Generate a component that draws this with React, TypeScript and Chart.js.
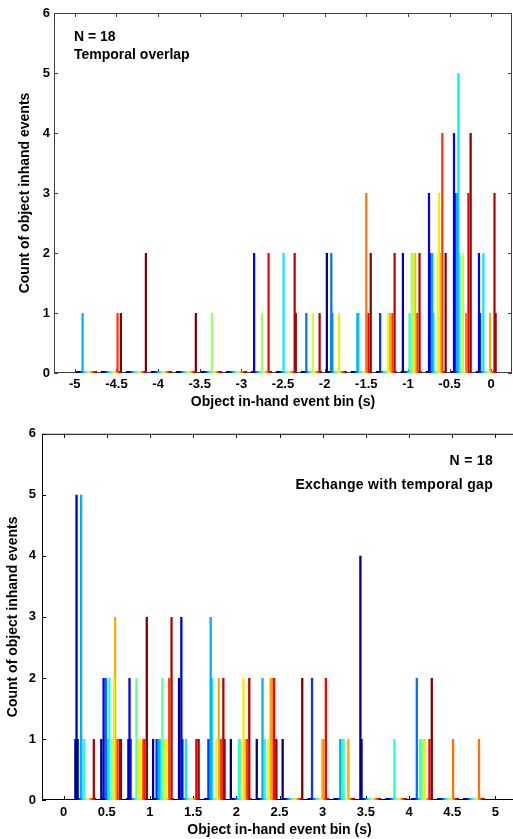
import React, { useEffect, useRef } from "react";
import { Chart, registerables } from "chart.js";

Chart.register(...registerables);

const SUBJECT_COUNT = 18;

// ---- Top panel: temporal overlap ----
const topBins = [-4.86, -4.56, -4.26, -3.96, -3.66, -3.36, -3.06, -2.76, -2.46, -2.16, -1.86, -1.56, -1.26, -0.96, -0.66, -0.36, -0.06];
const topSubjects = [
  [5], [14, 17], [17], [], [17], [9], [], [2, 9, 15], [6, 16, 17], [4, 10, 16], [0, 4, 5, 11],
  [5, 6, 13, 15, 17], [3, 10, 12, 14, 16], [1, 7, 9, 11, 12, 14, 16], [2, 3, 5, 6, 10, 11, 12, 14, 17],
  [2, 3, 5, 6, 7, 10, 13, 15, 17], [2, 3, 6, 12, 16, 17],
];
const topCounts = [
  [1], [1, 1], [2], [], [1], [1], [], [2, 1, 2], [2, 2, 1], [1, 1, 1], [2, 2, 1, 1],
  [1, 1, 3, 1, 2], [1, 1, 1, 1, 2], [2, 1, 2, 2, 2, 1, 2], [3, 2, 2, 1, 2, 3, 2, 4, 2],
  [4, 3, 3, 5, 2, 2, 1, 3, 4], [2, 1, 2, 1, 3, 1],
];
const topXTicks = [-5, -4.5, -4, -3.5, -3, -2.5, -2, -1.5, -1, -0.5, 0];
const topNotes = ["N = 18", "Temporal overlap"];

// ---- Bottom panel: exchange with temporal gap ----
const bottomBins = [0.25, 0.55, 0.85, 1.15, 1.45, 1.75, 2.05, 2.35, 2.65, 2.95, 3.25, 3.55, 3.85, 4.15, 4.45, 4.75];
const bottomSubjects = [
  [0, 1, 2, 5, 7, 8, 16], [0, 2, 4, 6, 7, 9, 11, 12, 14, 16, 17], [1, 2, 3, 8, 10, 11, 14, 15, 17],
  [0, 3, 5, 6, 8, 10, 11, 14, 16], [0, 2, 3, 6, 15, 17], [3, 5, 6, 10, 12, 14, 16, 17],
  [0, 7, 8, 11, 12, 14, 16], [0, 5, 7, 10, 12, 13, 15, 17], [0, 17], [3, 12, 13, 15], [5, 7, 8, 12],
  [0, 1], [7], [4, 7, 9, 11, 15, 17], [13], [13],
];
const bottomCounts = [
  [1, 5, 1, 5, 1, 1, 1], [1, 2, 2, 1, 2, 1, 2, 3, 1, 1, 1], [1, 2, 1, 2, 1, 1, 1, 1, 3],
  [1, 1, 1, 1, 2, 1, 1, 2, 3], [2, 3, 1, 1, 1, 1], [1, 3, 2, 1, 2, 1, 2, 1],
  [1, 1, 1, 2, 1, 1, 2], [1, 2, 1, 1, 2, 2, 2, 1], [1, 2], [2, 1, 1, 2], [1, 1, 1, 1],
  [4, 1], [1], [2, 1, 1, 1, 1, 2], [1], [1],
];
const bottomXTicks = [0, 0.5, 1, 1.5, 2, 2.5, 3, 3.5, 4, 4.5, 5];
const bottomNotes = ["N = 18", "Exchange with temporal gap"];

const yTicks = [0, 1, 2, 3, 4, 5, 6];
const xTitle = "Object in-hand event bin (s)";
const yTitle = "Count of object inhand events";

const FONT = '"Liberation Sans", Arial, Helvetica, sans-serif';

function jet(t: number): string {
  const c = (v: number) => Math.round(255 * Math.max(0, Math.min(1, v)));
  const r = c(1.5 - Math.abs(4 * t - 3));
  const g = c(1.5 - Math.abs(4 * t - 2));
  const b = c(1.5 - Math.abs(4 * t - 1));
  return `rgb(${r},${g},${b})`;
}

function buildDatasets(bins: number[], subjects: number[][], counts: number[][]) {
  const matrix = Array.from({ length: SUBJECT_COUNT }, () => bins.map(() => 0));
  subjects.forEach((list, b) => list.forEach((s, k) => { matrix[s][b] = counts[b][k]; }));
  return matrix.map((row, s) => ({
    label: `Subject ${s + 1}`,
    data: row.map((y, b) => ({ x: bins[b], y })),
    backgroundColor: jet(s / (SUBJECT_COUNT - 1)),
    borderWidth: 0,
    barPercentage: 2,
    categoryPercentage: 0.8,
    minBarLength: 2,
  }));
}

type PanelOpts = {
  bins: number[]; subjects: number[][]; counts: number[][];
  xMin: number; xMax: number; xTicks: number[];
  yWidth: number; xHeight: number;
  padding: { top: number; right: number; bottom: number; left: number };
  frameColor: string; tickLen: number;
  yTitlePad: number; xTitlePad: number; yTickPad: number; xTickPad: number;
  notes: string[]; notePos: [number, number][]; noteAlign: CanvasTextAlign; noteSpacing: string;
};

function makeConfig(o: PanelOpts): any {
  const framePlugin = {
    id: "frame",
    beforeDatasetsDraw(chart: any) {
      const { ctx, chartArea } = chart;
      const { left, right, top, bottom } = chartArea;
      const xs = chart.scales.x;
      const ys = chart.scales.y;
      ctx.save();
      ctx.strokeStyle = o.frameColor;
      ctx.lineWidth = 1;
      ctx.strokeRect(left + 0.5, top + 0.5, right - left - 1, bottom - top - 1);
      ctx.beginPath();
      xs.ticks.forEach((t: any) => {
        const px = Math.round(xs.getPixelForValue(t.value)) + 0.5;
        ctx.moveTo(px, bottom); ctx.lineTo(px, bottom - o.tickLen);
        ctx.moveTo(px, top); ctx.lineTo(px, top + o.tickLen);
      });
      ys.ticks.forEach((t: any) => {
        const py = Math.round(ys.getPixelForValue(t.value)) + 0.5;
        ctx.moveTo(left, py); ctx.lineTo(left + o.tickLen, py);
        ctx.moveTo(right, py); ctx.lineTo(right - o.tickLen, py);
      });
      ctx.stroke();
      ctx.restore();
    },
  };
  const notePlugin = {
    id: "notes",
    afterDraw(chart: any) {
      const { ctx } = chart;
      ctx.save();
      ctx.fillStyle = "#000";
      ctx.font = `bold 14px ${FONT}`;
      ctx.textAlign = o.noteAlign;
      ctx.textBaseline = "middle";
      try { (ctx as any).letterSpacing = o.noteSpacing; } catch (e) { /* ignore */ }
      o.notes.forEach((txt, i) => ctx.fillText(txt, o.notePos[i][0], o.notePos[i][1]));
      ctx.restore();
    },
  };
  return {
    type: "bar",
    data: { datasets: buildDatasets(o.bins, o.subjects, o.counts) },
    options: {
      animation: false,
      responsive: false,
      devicePixelRatio: 1,
      layout: { padding: o.padding },
      plugins: { legend: { display: false }, tooltip: { enabled: false } },
      scales: {
        x: {
          type: "linear",
          min: o.xMin,
          max: o.xMax,
          offset: false,
          grid: { display: false, drawTicks: false },
          border: { display: false },
          afterBuildTicks: (s: any) => { s.ticks = o.xTicks.map((v) => ({ value: v })); },
          afterFit: (s: any) => { s.height = o.xHeight; },
          ticks: {
            autoSkip: false, maxRotation: 0, padding: o.xTickPad, color: "#000",
            font: { family: FONT, size: 13, weight: "bold" },
            callback: (v: any) => String(v),
          },
          title: {
            display: true, text: xTitle, color: "#000",
            font: { family: FONT, size: 14, weight: "bold" },
            padding: { top: 0, bottom: o.xTitlePad },
          },
        },
        y: {
          type: "linear",
          min: 0,
          max: 6,
          grid: { display: false, drawTicks: false },
          border: { display: false },
          afterBuildTicks: (s: any) => { s.ticks = yTicks.map((v) => ({ value: v })); },
          afterFit: (s: any) => { s.width = o.yWidth; },
          ticks: {
            padding: o.yTickPad, color: "#000",
            font: { family: FONT, size: 13, weight: "bold" },
            callback: (v: any) => String(v),
          },
          title: {
            display: true, text: yTitle, color: "#000",
            font: { family: FONT, size: 14, weight: "bold" },
            padding: { top: o.yTitlePad, bottom: 0 },
          },
        },
      },
    },
    plugins: [framePlugin, notePlugin],
  };
}

function Panel({ config, top, width, height }: { config: any; top: number; width: number; height: number }) {
  const ref = useRef<HTMLCanvasElement>(null);
  useEffect(() => {
    const chart = new Chart(ref.current as HTMLCanvasElement, config);
    return () => chart.destroy();
  }, [config]);
  return (
    <canvas
      ref={ref}
      width={width}
      height={height}
      style={{ position: "absolute", left: 0, top, width, height, display: "block" }}
    />
  );
}

const topConfig = makeConfig({
  bins: topBins, subjects: topSubjects, counts: topCounts,
  xMin: -5.25, xMax: 0.25, xTicks: topXTicks,
  yWidth: 54, xHeight: 47,
  padding: { top: 13, right: 1, bottom: 0, left: 0 },
  frameColor: "#404040", tickLen: 4,
  yTitlePad: 17, xTitlePad: 9.6, yTickPad: 4, xTickPad: 3.2,
  notes: topNotes, notePos: [[74, 37.5], [74, 55.5]], noteAlign: "left", noteSpacing: "0px",
});

const bottomConfig = makeConfig({
  bins: bottomBins, subjects: bottomSubjects, counts: bottomCounts,
  xMin: -0.25, xMax: 5.25, xTicks: bottomXTicks,
  yWidth: 42, xHeight: 39,
  padding: { top: 7, right: 3, bottom: 0, left: 0 },
  frameColor: "#000", tickLen: 4,
  yTitlePad: 5, xTitlePad: 0.6, yTickPad: 6, xTickPad: 4.9,
  notes: bottomNotes, notePos: [[493, 41], [493, 65.5]], noteAlign: "right", noteSpacing: "0.3px",
});

export default function App() {
  return (
    <div style={{ position: "fixed", left: 0, top: 0, width: 513, height: 839, overflow: "hidden", background: "#fff" }}>
      <Panel config={topConfig} top={0} width={513} height={420} />
      <Panel config={bottomConfig} top={420} width={520} height={419} />
    </div>
  );
}
